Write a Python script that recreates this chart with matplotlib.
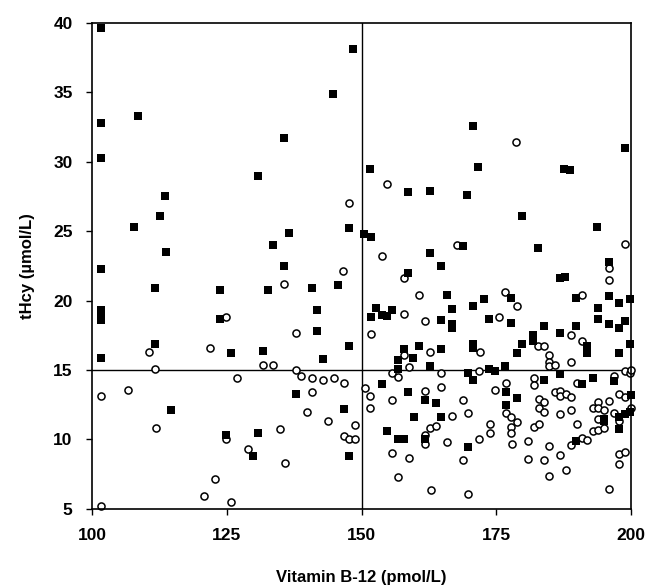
import matplotlib
matplotlib.use("Agg")
import matplotlib.pyplot as plt

plt.rcParams['font.family'] = ['Liberation Sans', 'DejaVu Sans']

# Filled squares: (Vitamin B-12, tHcy)
sq_x = [101.6, 101.6, 101.6, 101.7, 101.7, 101.7, 101.7, 101.7,
        108.6, 107.7, 113.6, 112.6, 113.7, 111.7, 111.7, 114.7,
        123.7, 123.7, 125.7, 124.8, 130.8, 129.8, 130.7, 131.7,
        133.6, 132.7, 135.6, 135.7, 136.6, 137.8,
        140.8, 141.7, 141.7, 142.8, 144.7, 145.7, 146.8,
        147.7, 147.7, 147.7, 148.5,
        150.5, 151.7, 151.6, 152.7, 153.7, 154.7, 155.7, 151.7,
        153.7, 154.8, 156.7, 157.8, 156.7, 156.7, 157.8, 158.7, 158.7, 158.7, 159.6, 159.7,
        160.7, 161.8, 161.8, 162.7, 162.7, 162.7, 163.8, 164.7, 164.7, 164.7, 164.7, 165.8,
        166.7, 166.7, 166.7,
        168.8, 169.5, 169.7, 169.7, 170.6, 170.7, 170.7, 170.7, 170.7, 171.6, 172.7, 173.7,
        173.7, 174.8,
        176.6, 176.8, 176.8, 177.7, 177.7, 178.8, 178.8, 179.7, 179.7,
        181.8, 181.8, 182.7, 183.9, 183.8,
        186.8, 187.8, 186.8, 186.8, 187.6, 188.7, 189.7, 189.8, 189.7, 190.9, 191.8, 191.8, 192.9,
        193.7, 193.8, 193.8, 194.9, 194.9, 195.8, 195.8, 195.8, 196.9, 197.8, 197.8, 197.8,
        197.8, 197.8, 198.9, 198.8, 198.9, 199.8, 199.8, 199.8, 199.9]
sq_y = [39.6, 32.8, 30.3, 22.3, 19.3, 18.9, 18.6, 15.9,
        33.3, 25.3, 27.5, 26.1, 23.5, 20.9, 16.9, 12.1,
        20.8, 18.7, 16.2, 10.3, 10.5, 8.8, 29.0, 16.4,
        24.0, 20.8, 31.7, 22.5, 24.9, 13.3,
        20.9, 19.3, 17.8, 15.8, 34.9, 21.1, 12.2,
        25.2, 16.7, 8.8, 38.1,
        24.8, 24.6, 29.5, 19.5, 19.0, 18.9, 19.3, 18.8,
        14.0, 10.6, 10.0, 10.0, 15.7, 15.1, 16.5, 22.0, 27.8, 13.4, 15.85, 11.6,
        16.75, 12.85, 10.0, 23.45, 27.9, 15.3, 12.65, 22.5, 18.6, 16.5, 11.6, 20.4,
        19.4, 18.3, 18.0,
        23.9, 27.6, 14.8, 9.45, 32.6, 19.6, 16.9, 16.6, 14.3, 29.6, 20.1, 18.7,
        15.1, 14.9,
        15.3, 13.4, 12.5, 20.2, 18.4, 16.2, 13.0, 26.1, 16.9,
        17.5, 17.1, 23.8, 18.2, 14.25,
        21.6, 21.7, 17.65, 14.7, 29.5, 29.4, 20.2, 18.2, 9.9, 14.0, 16.7, 16.2, 14.4,
        25.3, 19.5, 18.65, 11.5, 11.3, 22.8, 20.35, 18.3, 14.2, 19.85, 18.0, 16.25,
        11.65, 10.75, 18.5, 31.0, 11.85, 20.1, 16.85, 12.0, 13.2]

# Open circles: (Vitamin B-12, tHcy)
ci_x = [101.7, 101.7, 106.7, 110.6, 111.7, 111.8, 120.8, 121.8, 122.8, 124.8, 124.8, 125.8,
        126.8, 128.9, 131.8, 133.6, 134.8, 135.7, 135.8, 137.8, 137.8, 138.8, 139.8, 140.8,
        140.8, 142.8, 143.8, 144.9, 146.6, 146.8, 146.8, 147.7, 147.7, 148.8, 148.8,
        150.6, 151.6, 151.6, 151.7, 153.7, 154.7, 155.7, 155.7, 155.7, 156.7, 156.7, 157.8,
        157.8, 157.8, 158.8, 158.8, 160.7, 161.8, 161.8, 161.8, 161.8, 162.7, 162.7, 162.8,
        163.8, 164.7, 164.7, 165.8, 166.8, 167.7, 168.8, 168.8, 169.7, 169.7, 171.7, 171.9,
        171.8, 173.8, 173.8, 174.8, 175.5, 176.6, 176.8, 176.8, 177.7, 178.8, 177.7, 177.7,
        177.9, 178.7, 178.8, 180.9, 180.9, 181.9, 181.9, 181.9, 182.9, 182.8, 183.9, 182.9,
        183.9, 182.9, 183.9, 183.9, 184.8, 184.8, 184.8, 185.9, 184.8, 184.8, 185.9, 186.8,
        186.8, 187.9, 188.8, 186.8, 186.8, 187.9, 188.9, 188.9, 188.9, 188.9, 189.9, 189.9,
        190.8, 190.8, 190.8, 191.9, 192.9, 192.9, 193.9, 193.9, 193.9, 193.9, 194.9, 194.9,
        195.8, 195.8, 195.9, 195.9, 196.8, 196.8, 197.8, 197.8, 197.8, 197.8, 198.8, 198.9,
        198.9, 198.9, 199.8, 199.9, 200.0]
ci_y = [13.1, 5.2, 13.6, 16.3, 15.1, 10.8, 5.9, 16.6, 7.15, 18.8, 10.0, 5.5,
        14.4, 9.3, 15.4, 15.4, 10.75, 21.2, 8.3, 17.7, 15.0, 14.6, 12.0, 14.45,
        13.4, 14.3, 11.3, 14.4, 22.1, 14.05, 10.25, 27.0, 10.0, 10.0, 11.05,
        13.7, 13.1, 12.3, 17.6, 23.2, 28.4, 14.8, 12.85, 9.05, 14.5, 7.3, 21.6,
        19.06, 16.1, 15.25, 8.7, 20.4, 18.5, 13.5, 10.3, 9.7, 16.3, 10.8, 6.35,
        11.0, 14.8, 13.75, 9.8, 11.7, 24.0, 12.85, 8.5, 11.9, 6.1, 14.9, 16.3,
        10.0, 11.1, 10.5, 13.6, 18.85, 20.6, 14.05, 11.9, 11.65, 11.25, 10.9, 10.5,
        9.65, 31.4, 19.6, 9.9, 8.6, 14.4, 13.9, 10.9, 11.1, 16.75, 16.75, 12.95,
        12.7, 12.3, 12.0, 8.5, 16.1, 15.6, 15.3, 15.4, 9.5, 7.4, 13.4, 13.5,
        13.1, 13.3, 13.05, 11.8, 8.9, 7.8, 17.55, 15.6, 12.1, 9.6, 14.1, 11.1,
        20.4, 17.1, 10.1, 9.97, 12.3, 10.6, 12.7, 12.3, 11.45, 10.7, 12.1, 10.85,
        22.35, 21.5, 12.8, 6.45, 14.6, 11.9, 13.3, 11.35, 8.95, 8.2, 24.05, 14.9,
        13.05, 9.1, 14.8, 12.3, 15.0]

x_ticks = [100, 125, 150, 175, 200]
y_ticks = [5, 10, 15, 20, 25, 30, 35, 40]
x_cut = 150
y_cut = 15

fig = plt.figure(figsize=(6.48, 5.87), dpi=100)
ax = fig.add_axes([0.142, 0.133, 0.832, 0.828])

ax.axvline(x_cut, color='black', lw=1.0, zorder=1)
ax.axhline(y_cut, color='black', lw=1.0, zorder=1)

ax.scatter(ci_x, ci_y, s=26, marker='o', facecolors='white', edgecolors='black',
           linewidths=1.1, zorder=2, clip_on=False)
ax.scatter(sq_x, sq_y, s=36, marker='s', color='black', linewidths=0, zorder=3, clip_on=False)

ax.set_xlim(100, 200)
ax.set_ylim(5, 40)
ax.set_xticks(x_ticks)
ax.set_yticks(y_ticks)
ax.tick_params(direction='out', length=4, width=1, labelsize=12.5, pad=10)
for lab in ax.get_xticklabels() + ax.get_yticklabels():
    lab.set_fontweight('bold')
for sp in ax.spines.values():
    sp.set_linewidth(1.2)

ax.set_xlabel('Vitamin B-12 (pmol/L)', fontsize=12, fontweight='bold', labelpad=19)
ax.set_ylabel('tHcy (µmol/L)', fontsize=12, fontweight='bold', labelpad=13)

fig.savefig('out.png', dpi=100)
